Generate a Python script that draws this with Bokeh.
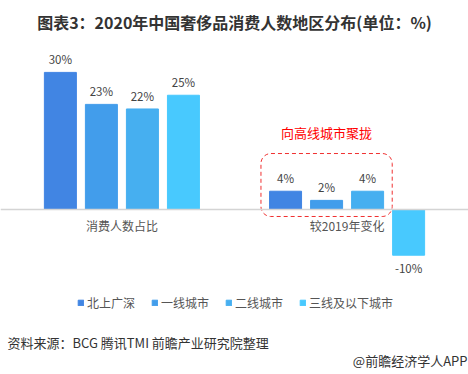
from bokeh.plotting import figure
from bokeh.models import (ColumnDataSource, FactorRange, Range1d, Span, Label,
                          Legend, LegendItem)
from bokeh.core.properties import value
from bokeh.embed import file_html
from bokeh.resources import INLINE

categories = ["消费人数占比", "较2019年变化"]
series = ["北上广深", "一线城市", "二线城市", "三线及以下城市"]
share = [30, 23, 22, 25]
change = [4, 2, 4, -10]
colors = ["#4185E3", "#429DEB", "#46AFF0", "#48C9FE"]

FONT = "Noto Sans CJK SC"
W, H = 468, 374

xs, tops, cols, labels, offs = [], [], [], [], []
for cat, vals in zip(categories, [share, change]):
    for s, v, c in zip(series, vals, colors):
        xs.append((cat, s))
        tops.append(v)
        cols.append(c)
        labels.append(f"{v}%")
        offs.append(-13 if v >= 0 else 13)

src = ColumnDataSource(dict(x=xs, top=tops, color=cols, label=labels, off=offs))

x_range = FactorRange(*xs, group_padding=1.49, range_padding=0.96,
                      range_padding_units="absolute")
p = figure(x_range=x_range, y_range=Range1d(-36.1, 45.73), width=W, height=H,
           output_backend="svg", toolbar_location=None,
           x_axis_location=None, y_axis_location=None,
           min_border_left=0, min_border_right=0, min_border_top=0, min_border_bottom=0)
p.outline_line_color = None
p.xgrid.visible = False
p.ygrid.visible = False
p.background_fill_color = "white"
p.border_fill_color = "white"

p.add_layout(Span(location=0, dimension="width", line_color="#d4d4d4", line_width=1.5))

r = p.vbar(x="x", top="top", bottom=0, width=0.78, color="color", source=src)

p.text(x="x", y="top", text="label", y_offset="off", source=src,
       text_align="center", text_baseline="middle", text_font=value(FONT),
       text_font_size="11.5px", text_color="#444444")

# category labels under the zero line
cat_src = ColumnDataSource(dict(x=categories, y=[0, 0], t=categories))
p.text(x="x", y="y", text="t", source=cat_src, y_offset=16,
       text_align="center", text_baseline="middle", text_font=value(FONT),
       text_font_size="12px", text_color="#555555")

# dashed rounded box + annotation
p.rect(x=[("较2019年变化", "一线城市")], y=[5.36], width=3.2, height=13.78,
       fill_alpha=0, line_color="#F03030", line_dash="4 3", line_width=1,
       border_radius=10)
p.text(x=[("较2019年变化", "一线城市")], y=[16.8], text=["向高线城市聚拢"],
       text_align="center", text_baseline="middle", text_font=value(FONT),
       text_font_size="13px", text_color="#FF0000")

# title
p.add_layout(Label(x=234, y=H - 21, x_units="screen", y_units="screen",
                   text="图表3：2020年中国奢侈品消费人数地区分布(单位：%)",
                   text_align="center", text_baseline="middle",
                   text_font=FONT, text_font_size="16px", text_font_style="bold",
                   text_color="#333333"))

# legend
items = [LegendItem(label=s, renderers=[r], index=i) for i, s in enumerate(series)]
legend = Legend(items=items, orientation="horizontal", location=(77, H - 311),
                glyph_width=7, glyph_height=7, label_standoff=3, spacing=16,
                padding=0, margin=0, border_line_alpha=0, background_fill_alpha=0,
                label_text_font=FONT, label_text_font_size="12px",
                label_text_color="#555555", label_height=12)
p.add_layout(legend, "center")

p.add_layout(Label(x=7, y=H - 342, x_units="screen", y_units="screen",
                   text="资料来源：BCG 腾讯TMI 前瞻产业研究院整理",
                   text_align="left", text_baseline="middle",
                   text_font=FONT, text_font_size="13px", text_color="#333333"))
p.add_layout(Label(x=467, y=H - 360, x_units="screen", y_units="screen",
                   text="@前瞻经济学人APP",
                   text_align="right", text_baseline="middle",
                   text_font=FONT, text_font_size="13px", text_color="#333333"))

open("out.html", "w").write(file_html(p, INLINE))
